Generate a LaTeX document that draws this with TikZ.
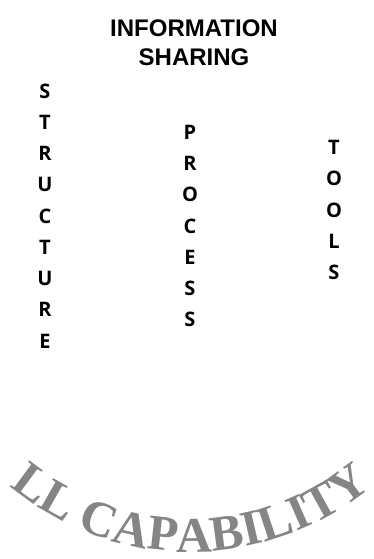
\documentclass[tikz,border=0pt]{standalone}
\usepackage{fontspec}
\setmainfont{Liberation Serif}
\newfontfamily\titlefont{Liberation Sans}
\newfontfamily\letterfont{Open Sans}
\usetikzlibrary{decorations.text}
\tikzset{
  heading/.style={align=center, inner sep=0pt, font=\titlefont\bfseries\fontsize{24}{29}\selectfont},
  pillar/.style={align=center, inner sep=0pt, font=\letterfont\bfseries\fontsize{20}{31.25}\selectfont},
  arctext/.style={decorate, decoration={text along path, text align=center, text color=black!48,
      text={|\bfseries\fontsize{50}{50}\selectfont|LL CAPABILITY}}}
}
\begin{document}
\begin{tikzpicture}[x=1pt, y=1pt]
    \useasboundingbox (0,0) rectangle (374,559);

    \node (sharing) [heading] at (194,516.5) {INFORMATION\\SHARING};

    % the three pillars
    \node (structure) [pillar] at (45,343) {S\\T\\R\\U\\C\\T\\U\\R\\E};
    \node (process) [pillar] at (190,333) {P\\R\\O\\C\\E\\S\\S};
    \node (tools) [pillar] at (334,349) {T\\O\\O\\L\\S};

    % curved base
    \coordinate (hub) at (191,290);
    \path[arctext] (hub) ++(226:283) arc[start angle=226, end angle=314, radius=283];
\end{tikzpicture}
\end{document}
